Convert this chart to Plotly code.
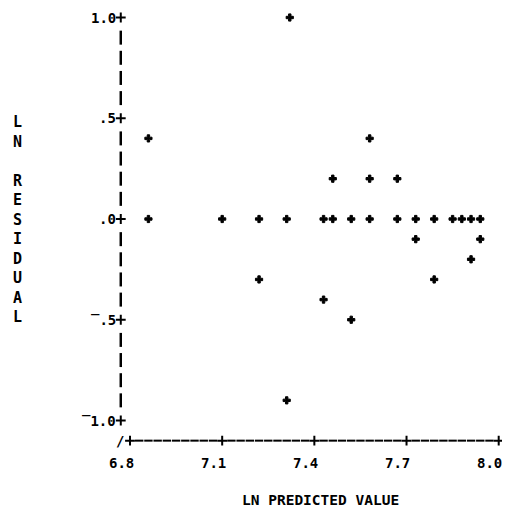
import numpy as np
import plotly.graph_objects as go

# Residual plot: ln residual against ln predicted value
PRED = [6.86, 7.10, 7.22, 7.31, 7.43, 7.46, 7.52, 7.58, 7.67, 7.73, 7.79, 7.85, 7.88, 7.91, 7.94,
        7.32, 6.86, 7.58, 7.46, 7.58, 7.67, 7.73, 7.94, 7.91, 7.22, 7.79, 7.43, 7.52, 7.31]
RESID = [0.0, 0.0, 0.0, 0.0, 0.0, 0.0, 0.0, 0.0, 0.0, 0.0, 0.0, 0.0, 0.0, 0.0, 0.0,
         1.0, 0.4, 0.4, 0.2, 0.2, 0.2, -0.1, -0.1, -0.2, -0.3, -0.3, -0.4, -0.5, -0.9]

X_TICKS = [6.8, 7.1, 7.4, 7.7, 8.0]
X_TICK_TEXT = ["6.8", "7.1", "7.4", "7.7", "8.0"]
Y_TICKS = [1.0, 0.5, 0.0, -0.5, -1.0]
Y_TICK_TEXT = ["1.0", ".5", ".0", "\u203e.5", "\u203e1.0"]

X_TITLE = "LN PREDICTED VALUE"
Y_TITLE = "L<br>N<br> <br>R<br>E<br>S<br>I<br>D<br>U<br>A<br>L"

# line-printer grid: one column = 0.03, one row = 0.1
COL = 0.03
ROW = 0.1
Y_AXIS_X = X_TICKS[0] - COL          # column holding the vertical axis
X_AXIS_Y = Y_TICKS[-1] - ROW         # row holding the horizontal axis

FONT = dict(family="DejaVu Sans Mono", size=14, color="black", weight="bold")

fig = go.Figure()

# vertical axis: '|' on each row, '+' on labelled rows
rows = [round(k * ROW, 1) for k in range(-9, 10) if k % 5 != 0]
fig.add_trace(go.Scatter(
    x=[Y_AXIS_X] * len(rows), y=rows, mode="markers", hoverinfo="skip",
    marker=dict(symbol="line-ns", size=10, line=dict(color="black", width=2.5)),
))
fig.add_trace(go.Scatter(
    x=[Y_AXIS_X] * len(Y_TICKS), y=Y_TICKS, mode="markers", hoverinfo="skip",
    marker=dict(symbol="cross-thin", size=7, line=dict(color="black", width=2)),
))

# horizontal axis: '-' on each column, '+' on labelled columns
n_cols = int(round((X_TICKS[-1] - X_TICKS[0]) / COL))
cols = [round(X_TICKS[0] + k * COL, 2) for k in range(n_cols + 1) if k % 10 != 0]
fig.add_trace(go.Scatter(
    x=cols, y=[X_AXIS_Y] * len(cols), mode="markers", hoverinfo="skip",
    marker=dict(symbol="line-ew", size=6, line=dict(color="black", width=2)),
))
fig.add_trace(go.Scatter(
    x=X_TICKS, y=[X_AXIS_Y] * len(X_TICKS), mode="markers", hoverinfo="skip",
    marker=dict(symbol="cross-thin", size=7, line=dict(color="black", width=2)),
))

# data points, printed as heavy '+' characters
fig.add_trace(go.Scatter(
    x=PRED, y=RESID, mode="markers",
    marker=dict(symbol="cross", size=6, color="black", line=dict(color="black", width=1)),
))

annotations = []
for v, t in zip(Y_TICKS, Y_TICK_TEXT):
    annotations.append(dict(x=Y_AXIS_X, y=v, text=t, showarrow=False, xanchor="right",
                            yanchor="middle", xshift=-3, font=FONT))
for v, t in zip(X_TICKS, X_TICK_TEXT):
    annotations.append(dict(x=v, y=X_AXIS_Y, text=t, showarrow=False, xanchor="center",
                            yanchor="middle", xshift=-9, yshift=-22, font=FONT))
annotations.append(dict(x=Y_AXIS_X, y=X_AXIS_Y, text="/", showarrow=False, xanchor="center",
                        yanchor="middle", xshift=-1, font=FONT))
annotations.append(dict(xref="paper", yref="paper", x=(320 - 100) / 402, y=-(500 - 454) / 444,
                        text=X_TITLE, showarrow=False, xanchor="center", yanchor="middle",
                        font=dict(FONT, size=14.5)))
annotations.append(dict(xref="paper", x=(18 - 100) / 402, y=0.0, text=Y_TITLE, showarrow=False,
                        xanchor="center", yanchor="middle", font=dict(FONT, size=15)))

# plot area: 402 x 444 px starting at (100, 10); scales of 307.25 px and 201.5 px per unit
px_x, px_y = 307.25, 201.5
fig.update_layout(
    width=512, height=514,
    margin=dict(l=100, r=10, t=10, b=60),
    paper_bgcolor="white", plot_bgcolor="white",
    showlegend=False,
    xaxis=dict(visible=False, range=[6.8 - 30 / px_x, 6.8 + 372 / px_x]),
    yaxis=dict(visible=False, range=[-(454 - 219) / px_y, (219 - 10) / px_y]),
    annotations=annotations,
)

fig.write_html("out.html")
